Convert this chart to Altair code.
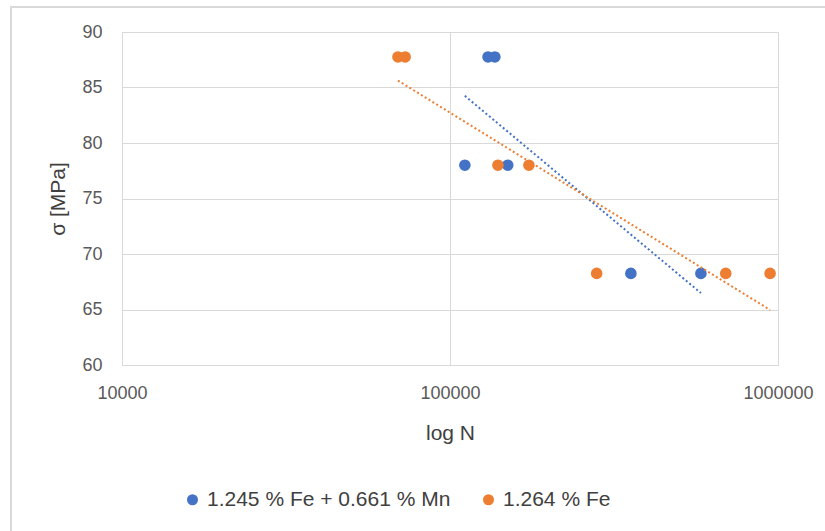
import altair as alt
import pandas as pd

series_a = "1.245 % Fe + 0.661 % Mn"
series_b = "1.264 % Fe"

a_N = [130600, 137000, 111000, 150000, 356000, 582000]
a_sigma = [87.75, 87.75, 78.0, 78.0, 68.25, 68.25]
b_N = [69400, 73000, 140000, 174000, 280000, 693000, 946000]
b_sigma = [87.75, 87.75, 78.0, 78.0, 68.25, 68.25, 68.25]

x_ticks = [10000, 100000, 1000000]
y_ticks = [60, 65, 70, 75, 80, 85, 90]
colors = ["#4472C4", "#ED7D31"]
order = [series_a, series_b]

df = pd.DataFrame({
    "N": a_N + b_N,
    "sigma": a_sigma + b_sigma,
    "series": [series_a] * len(a_N) + [series_b] * len(b_N),
})

FONT = "Liberation Sans"
GRID = "#d9d9d9"
TXT = "#595959"

x_enc = alt.X("N:Q", scale=alt.Scale(type="log", domain=[10000, 1000000]),
              axis=alt.Axis(values=x_ticks, format="d", title="log N", grid=True,
                            labelFlush=False, labelOverlap=False, labelPadding=19,
                            titlePadding=20))
y_enc = alt.Y("sigma:Q", scale=alt.Scale(domain=[60, 90], nice=False, zero=False),
              axis=alt.Axis(values=y_ticks, title="σ [MPa]", grid=True,
                            labelPadding=20, titlePadding=13))

points = alt.Chart(df).mark_circle(size=135, opacity=1).encode(
    x=x_enc, y=y_enc,
    color=alt.Color("series:N", scale=alt.Scale(domain=order, range=colors), sort=order,
                    legend=alt.Legend(title=None, orient="none", direction="horizontal",
                                      legendX=60, legendY=457, symbolSize=90,
                                      symbolType="circle", labelFontSize=21,
                                      labelFont=FONT, labelColor="#404040", labelLimit=0,
                                      columnPadding=27, symbolOffset=0, labelOffset=4)),
)

trend = alt.Chart(df).transform_regression(
    "N", "sigma", method="log", groupby=["series"]
).mark_line(strokeWidth=2, strokeDash=[2, 2.5]).encode(
    x="N:Q", y="sigma:Q",
    stroke=alt.Stroke("series:N", scale=alt.Scale(domain=order, range=colors), legend=None),
)

frame = alt.Chart(alt.Data(values=[{}])).mark_rect(
    filled=False, stroke=GRID, strokeWidth=2
).encode(
    x=alt.value(-111), x2=alt.value(720), y=alt.value(-25), y2=alt.value(520)
)

chart = alt.layer(frame, points, trend).properties(
    width=656, height=333,
    autosize=alt.AutoSizeParams(type="none"),
    padding={"left": 122, "top": 32, "right": 47, "bottom": 166},
    background="white",
).configure_view(stroke=None).configure_axis(
    gridColor=GRID, gridWidth=1, domainColor=GRID, domainWidth=1, ticks=False,
    labelFont=FONT, labelFontSize=18, labelColor=TXT,
    titleFont=FONT, titleFontSize=21, titleColor="#404040", titleFontWeight="normal",
)

chart.save("out.html", embed_options={"renderer": "svg", "actions": False})
